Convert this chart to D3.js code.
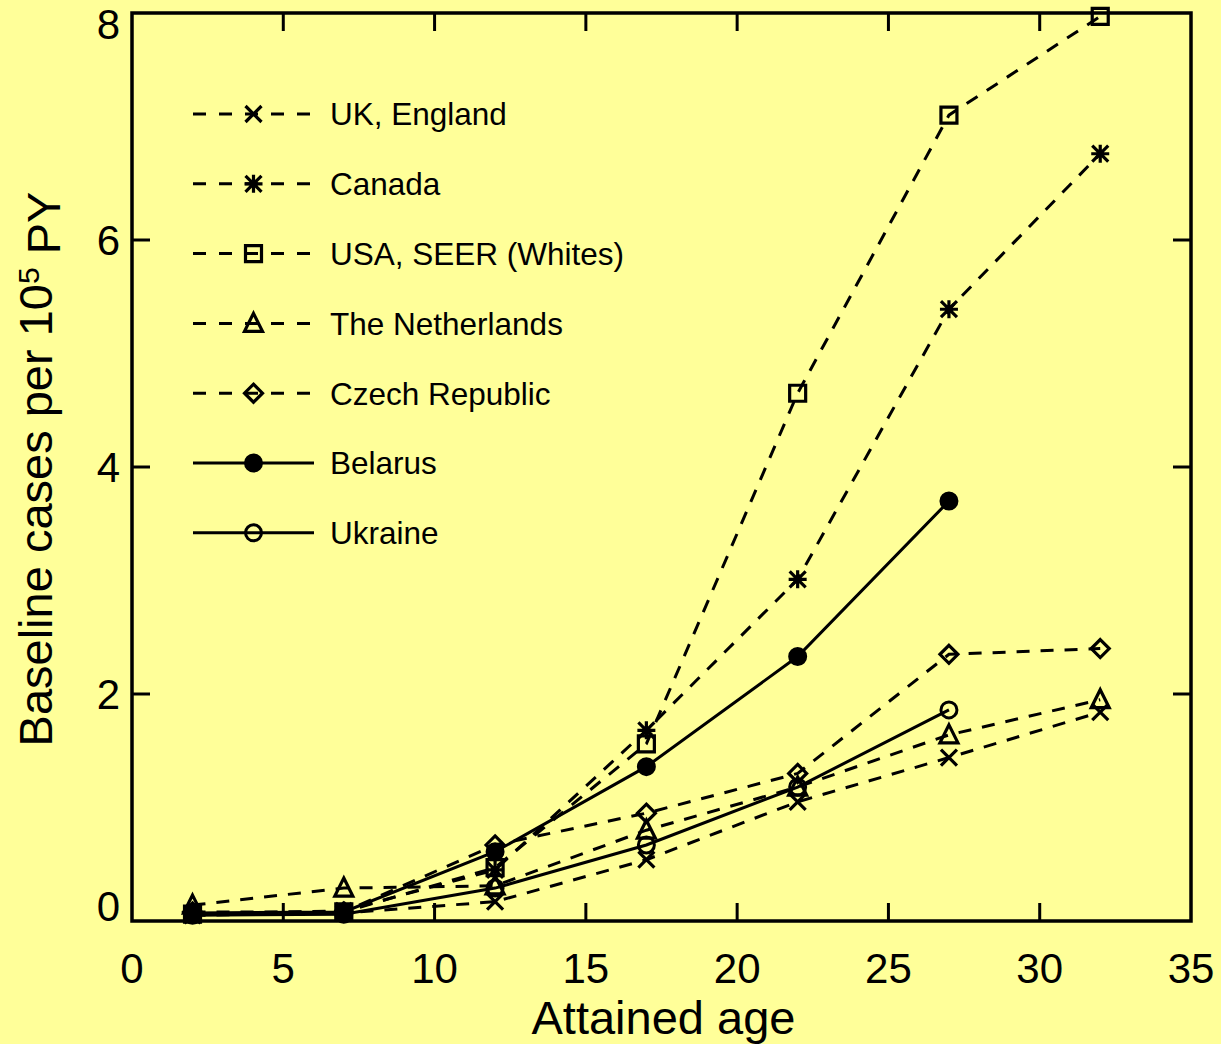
<!DOCTYPE html>
<html>
<head>
<meta charset="utf-8">
<script src="https://cdn.jsdelivr.net/npm/d3@7"></script>
<style>
  body { margin: 0; background: #ffff99; }
  svg { display: block; font-family: "Liberation Sans", Arial, Helvetica, sans-serif; }
</style>
</head>
<body>
<div id="chart"></div>
<script>
// data
var ages = [2, 7, 12, 17, 22, 27, 32];
var ukEngland = [0.05, 0.07, 0.17, 0.54, 1.05, 1.44, 1.84];
var canada = [0.06, 0.09, 0.45, 1.68, 3.01, 5.39, 6.76];
var usaSeer = [0.06, 0.08, 0.47, 1.56, 4.65, 7.1, 7.97];
var netherlands = [0.14, 0.29, 0.31, 0.8, 1.18, 1.64, 1.95];
var czech = [0.08, 0.08, 0.67, 0.95, 1.3, 2.35, 2.4];
var belarus = [0.07, 0.08, 0.61, 1.36, 2.33, 3.7];
var ukraine = [0.05, 0.06, 0.29, 0.67, 1.18, 1.86];

var seriesNames = ["UK, England", "Canada", "USA, SEER (Whites)", "The Netherlands", "Czech Republic", "Belarus", "Ukraine"];
var seriesValues = [ukEngland, canada, usaSeer, netherlands, czech, belarus, ukraine];
var xTicks = [0, 5, 10, 15, 20, 25, 30, 35];
var yTicks = [0, 2, 4, 6, 8];

// styles per series
var markerTypes = ["x", "asterisk", "square", "triangle", "diamond", "dot", "circle"];
var dashedFlags = [true, true, true, true, true, false, false];

var width = 1221;
var height = 1044;
var margin = { top: 13, right: 30, bottom: 123, left: 132 };
var plotW = width - margin.left - margin.right;
var plotH = height - margin.top - margin.bottom;

var svg = d3
  .select("#chart")
  .append("svg")
  .attr("width", width)
  .attr("height", height);

svg.append("rect").attr("width", width).attr("height", height).attr("fill", "#ffff99");

var g = svg.append("g").attr("transform", `translate(${margin.left},${margin.top})`);

var xScale = d3.scaleLinear().domain([0, 35]).range([0, plotW]);
var yScale = d3.scaleLinear().domain([0, 8]).range([plotH, 0]);

// marker path for a given type
function markerPath(type) {
  var s = 8;
  if (type === "x") return `M${-s},${-s}L${s},${s}M${-s},${s}L${s},${-s}`;
  if (type === "asterisk")
    return `M${-s},${-s}L${s},${s}M${-s},${s}L${s},${-s}M0,${-s - 1}L0,${s + 1}M${-s - 1},0L${s + 1},0`;
  if (type === "square") return `M${-s},${-s}H${s}V${s}H${-s}Z`;
  if (type === "triangle") return `M0,${-s - 2}L${s + 1},${s}H${-s - 1}Z`;
  if (type === "diamond") return `M0,${-s - 1}L${s + 1},0L0,${s + 1}L${-s - 1},0Z`;
  return null;
}

function drawMarker(sel, type) {
  if (type === "dot" || type === "circle") {
    sel
      .append("circle")
      .attr("r", 8)
      .attr("fill", type === "dot" ? "#000" : "none")
      .attr("stroke", "#000")
      .attr("stroke-width", 3);
  } else {
    sel
      .append("path")
      .attr("d", markerPath(type))
      .attr("fill", "none")
      .attr("stroke", "#000")
      .attr("stroke-width", 3.2)
      .attr("stroke-linejoin", "miter");
  }
}

// ticks on all four sides, pointing inward
var tickLen = 18;
var frame = g.append("g").attr("class", "frame");
xTicks.slice(1, -1).forEach(function (t) {
  frame.append("line").attr("x1", xScale(t)).attr("x2", xScale(t)).attr("y1", plotH).attr("y2", plotH - tickLen);
  frame.append("line").attr("x1", xScale(t)).attr("x2", xScale(t)).attr("y1", 0).attr("y2", tickLen);
});
yTicks.slice(1, -1).forEach(function (t) {
  frame.append("line").attr("x1", 0).attr("x2", tickLen).attr("y1", yScale(t)).attr("y2", yScale(t));
  frame.append("line").attr("x1", plotW).attr("x2", plotW - tickLen).attr("y1", yScale(t)).attr("y2", yScale(t));
});
frame.selectAll("line").attr("stroke", "#000").attr("stroke-width", 3);

// tick labels
g.selectAll(".xlab")
  .data(xTicks)
  .enter()
  .append("text")
  .attr("class", "xlab")
  .attr("x", (d) => xScale(d))
  .attr("y", plotH + 62)
  .attr("text-anchor", "middle")
  .style("font-size", "42px")
  .text((d) => d);

g.selectAll(".ylab")
  .data(yTicks)
  .enter()
  .append("text")
  .attr("class", "ylab")
  .attr("x", -12)
  .attr("y", function (d) {
    // end labels sit inside the axis range
    if (d === 8) return yScale(d) + 11;
    if (d === 0) return yScale(d) - 15;
    return yScale(d);
  })
  .attr("dy", "0.36em")
  .attr("text-anchor", "end")
  .style("font-size", "42px")
  .text((d) => d);

// axis titles
g.append("text")
  .attr("x", plotW / 2 + 2)
  .attr("y", plotH + 113)
  .attr("text-anchor", "middle")
  .style("font-size", "47px")
  .text("Attained age");

var yTitle = g
  .append("text")
  .attr("transform", `translate(-80,${plotH / 2 + 2}) rotate(-90)`)
  .attr("text-anchor", "middle")
  .style("font-size", "47px");
yTitle.append("tspan").text("Baseline cases per 10");
yTitle.append("tspan").attr("dy", "-0.45em").style("font-size", "30px").text("5");
yTitle.append("tspan").attr("dy", "0.45em").text(" PY");

// series lines and markers
var line = d3
  .line()
  .x((d) => xScale(d[0]))
  .y((d) => yScale(d[1]));

seriesValues.forEach(function (vals, i) {
  var pts = vals.map((v, j) => [ages[j], v]);
  g.append("path")
    .attr("d", line(pts))
    .attr("fill", "none")
    .attr("stroke", "#000")
    .attr("stroke-width", 3)
    .attr("stroke-dasharray", dashedFlags[i] ? "13,11" : null);

  g.selectAll(".m" + i)
    .data(pts)
    .enter()
    .append("g")
    .attr("class", "m" + i)
    .attr("transform", (d) => `translate(${xScale(d[0])},${yScale(d[1])})`)
    .each(function () {
      drawMarker(d3.select(this), markerTypes[i]);
    });
});

// frame box
g.append("rect")
  .attr("width", plotW)
  .attr("height", plotH)
  .attr("fill", "none")
  .attr("stroke", "#000")
  .attr("stroke-width", 3.5);

// legend
var legend = svg
  .selectAll(".legend")
  .data(seriesNames)
  .enter()
  .append("g")
  .attr("class", "legend")
  .attr("transform", (d, i) => `translate(193,${114 + i * 69.8})`);

legend
  .append("line")
  .attr("x1", 0)
  .attr("x2", 121)
  .attr("stroke", "#000")
  .attr("stroke-width", 3)
  .attr("stroke-dasharray", (d, i) => (dashedFlags[i] ? "13,13" : null));

legend.each(function (d, i) {
  var m = d3.select(this).append("g").attr("transform", "translate(60.5,0)");
  drawMarker(m, markerTypes[i]);
});

legend
  .append("text")
  .attr("x", 137)
  .attr("dy", "0.36em")
  .style("font-size", "31.5px")
  .text((d) => d);
</script>
</body>
</html>
